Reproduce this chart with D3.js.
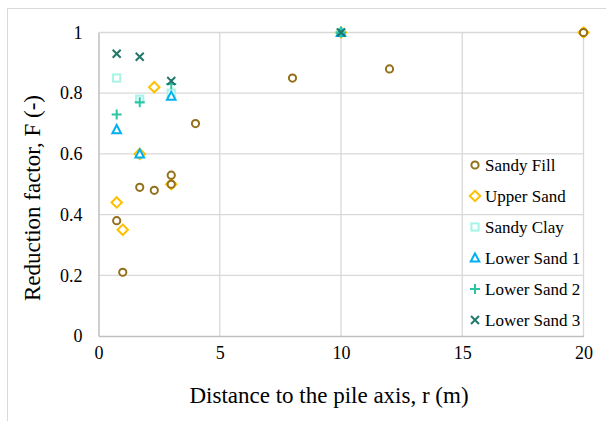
<!DOCTYPE html>
<html>
<head>
<meta charset="utf-8">
<script src="https://cdn.jsdelivr.net/npm/d3@7"></script>
<style>
  html, body { margin: 0; padding: 0; background: #fff; }
  svg { display: block; }
  text { font-family: "Liberation Serif", "Times New Roman", serif; fill: #000; }
</style>
</head>
<body>
<svg id="chart" width="606" height="421"></svg>
<script>
// Reduction factor F against distance r for each soil layer
const seriesNames = ["Sandy Fill", "Upper Sand", "Sandy Clay", "Lower Sand 1", "Lower Sand 2", "Lower Sand 3"];
const sandyFillR = [0.75, 1, 1.7, 2.3, 3, 3, 4, 8, 12, 20];
const sandyFillF = [0.38, 0.21, 0.49, 0.48, 0.53, 0.50, 0.70, 0.85, 0.88, 1.0];
const upperSandR = [0.75, 1, 1.7, 2.3, 3, 10, 20];
const upperSandF = [0.44, 0.35, 0.60, 0.82, 0.50, 1.0, 1.0];
const sandyClayR = [0.75, 1.7, 3, 10];
const sandyClayF = [0.85, 0.78, 0.80, 1.0];
const lowerSand1R = [0.75, 1.7, 3, 10];
const lowerSand1F = [0.68, 0.60, 0.79, 1.0];
const lowerSand2R = [0.75, 1.7, 3, 10];
const lowerSand2F = [0.73, 0.77, 0.83, 1.0];
const lowerSand3R = [0.75, 1.7, 3, 10];
const lowerSand3F = [0.93, 0.92, 0.84, 1.0];
const xTicks = [0, 5, 10, 15, 20];
const yTicks = [0, 0.2, 0.4, 0.6, 0.8, 1];

const styles = {
  "Sandy Fill":   { color: "#93701A", shape: "circle" },
  "Upper Sand":   { color: "#FFC000", shape: "diamond" },
  "Sandy Clay":   { color: "#A6F3E8", shape: "square" },
  "Lower Sand 1": { color: "#00B0F0", shape: "triangle" },
  "Lower Sand 2": { color: "#2CC5A4", shape: "plus" },
  "Lower Sand 3": { color: "#23776A", shape: "cross" }
};

const seriesData = {
  "Sandy Fill": d3.zip(sandyFillR, sandyFillF),
  "Upper Sand": d3.zip(upperSandR, upperSandF),
  "Sandy Clay": d3.zip(sandyClayR, sandyClayF),
  "Lower Sand 1": d3.zip(lowerSand1R, lowerSand1F),
  "Lower Sand 2": d3.zip(lowerSand2R, lowerSand2F),
  "Lower Sand 3": d3.zip(lowerSand3R, lowerSand3F)
};
// painting order (upper sand sits beneath the sandy fill circles)
const drawOrder = ["Upper Sand", "Sandy Fill", "Sandy Clay", "Lower Sand 1", "Lower Sand 2", "Lower Sand 3"];

const svg = d3.select("#chart");

// chart frame
svg.append("rect").attr("x", 7.5).attr("y", 8.5).attr("width", 700).attr("height", 600)
  .attr("fill", "#fff").attr("stroke", "#d9d9d9").attr("stroke-width", 1);

const x = d3.scaleLinear().domain([0, 20]).range([98.5, 583.5]);
const y = d3.scaleLinear().domain([0, 1]).range([336, 32.5]);

// gridlines
const grid = svg.append("g");
grid.selectAll("line.h").data(yTicks.filter(d => d > 0)).enter().append("line")
  .attr("x1", x(0)).attr("x2", x(20)).attr("y1", d => y(d)).attr("y2", d => y(d))
  .attr("stroke", "#d9d9d9").attr("stroke-width", 1.3);
grid.selectAll("line.v").data(xTicks.filter(d => d > 0)).enter().append("line")
  .attr("y1", y(0)).attr("y2", y(1)).attr("x1", d => x(d)).attr("x2", d => x(d))
  .attr("stroke", "#d9d9d9").attr("stroke-width", 1.3);

// axes (lines and labels, no tick marks)
const xAxis = svg.append("g").attr("transform", `translate(0,${y(0)})`)
  .call(d3.axisBottom(x).tickValues(xTicks).tickSize(0).tickPadding(10).tickFormat(d3.format("d")));
xAxis.select(".domain").attr("stroke", "#bfbfbf").attr("stroke-width", 1.5);
xAxis.selectAll("text").attr("font-size", 18);

const yAxis = svg.append("g").attr("transform", `translate(${x(0)},0)`)
  .call(d3.axisLeft(y).tickValues(yTicks).tickSize(0).tickPadding(16).tickFormat(d => d === 0 || d === 1 ? d3.format("d")(d) : d3.format(".1f")(d)));
yAxis.select(".domain").attr("stroke", "#bfbfbf").attr("stroke-width", 1.5);
yAxis.selectAll("text").attr("font-size", 18);

// axis titles
svg.append("text").attr("x", 329).attr("y", 403).attr("text-anchor", "middle")
  .attr("font-size", 23).text("Distance to the pile axis, r (m)");
svg.append("text").attr("transform", "translate(40,198) rotate(-90)").attr("text-anchor", "middle")
  .attr("font-size", 23).text("Reduction factor, F (-)");

// marker drawing
function drawMarker(g, shape, color) {
  const sw = 2;
  if (shape === "circle") {
    g.append("circle").attr("r", 3.6).attr("fill", "#fff").attr("stroke", color).attr("stroke-width", sw);
  } else if (shape === "diamond") {
    g.append("path").attr("d", "M0,-5.2L5.2,0L0,5.2L-5.2,0Z").attr("fill", "#fff").attr("stroke", color).attr("stroke-width", sw);
  } else if (shape === "square") {
    g.append("rect").attr("x", -3.6).attr("y", -3.6).attr("width", 7.2).attr("height", 7.2)
      .attr("fill", "#fff").attr("stroke", color).attr("stroke-width", sw);
  } else if (shape === "triangle") {
    g.append("path").attr("d", "M0,-4.6L4.3,3.6L-4.3,3.6Z").attr("fill", "#fff").attr("stroke", color).attr("stroke-width", sw);
  } else if (shape === "plus") {
    g.append("path").attr("d", "M-5,0H5M0,-5V5").attr("stroke", color).attr("stroke-width", sw).attr("fill", "none");
  } else if (shape === "cross") {
    g.append("path").attr("d", "M-4,-4L4,4M-4,4L4,-4").attr("stroke", color).attr("stroke-width", sw).attr("fill", "none");
  }
}

// data points
drawOrder.forEach(name => {
  const st = styles[name];
  const layer = svg.append("g");
  seriesData[name].forEach(([r, f]) => {
    const g = layer.append("g").attr("transform", `translate(${x(r)},${y(f)})`);
    drawMarker(g, st.shape, st.color);
  });
});

// legend
const legend = svg.append("g");
seriesNames.forEach((name, i) => {
  const cy = 165 + i * 31;
  const g = legend.append("g").attr("transform", `translate(475,${cy})`);
  drawMarker(g, styles[name].shape, styles[name].color);
  legend.append("text").attr("x", 485).attr("y", cy).attr("dy", "0.35em")
    .attr("font-size", 17).text(name);
});
</script>
</body>
</html>
